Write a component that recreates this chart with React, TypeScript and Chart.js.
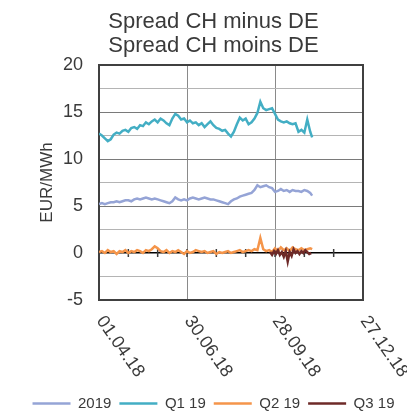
import React, { useEffect, useRef } from "react";
import { Chart, registerables } from "chart.js";

Chart.register(...registerables);

const TITLE_LINES = ["Spread CH minus DE", "Spread CH moins DE"];
const Y_TITLE = "EUR/MWh";
const X_TICK_DAYS = [0, 90, 180, 270];
const X_TICK_LABELS = ["01.04.18", "30.06.18", "28.09.18", "27.12.18"];
const ZERO_TICK_DAYS = [0, 30, 60, 90, 120, 150, 180, 210, 240, 270];

const SERIES_NAMES = ["2019", "Q1 19", "Q2 19", "Q3 19"];
const SERIES_COLORS = ["#95a4d6", "#43aec4", "#f5954a", "#6e2a28"];

// days since 01.04.18
const days = [
  0, 3, 6, 9, 12, 15, 18, 21, 24, 27, 30, 33, 36, 39, 42, 45, 48, 51, 54, 57,
  60, 63, 66, 69, 72, 75, 78, 81, 84, 87, 90, 93, 96, 99, 102, 105, 108, 111, 114, 117,
  120, 123, 126, 129, 132, 135, 138, 141, 144, 147, 150, 153, 156, 159, 162, 165, 168, 171, 174, 177,
  180, 183, 186, 189, 192, 195, 198, 201, 204, 207, 210, 213, 216, 218,
];

const y2019 = [
  5.2, 5.3, 5.2, 5.3, 5.4, 5.4, 5.5, 5.4, 5.5, 5.6,
  5.6, 5.5, 5.7, 5.8, 5.7, 5.8, 5.9, 5.8, 5.7, 5.8,
  5.7, 5.6, 5.5, 5.4, 5.3, 5.5, 5.9, 5.7, 5.6, 5.7,
  5.6, 5.8, 5.9, 5.8, 5.7, 5.8, 5.9, 5.8, 5.7, 5.7,
  5.6, 5.5, 5.4, 5.3, 5.2, 5.5, 5.7, 5.8, 6.0, 6.1,
  6.2, 6.3, 6.4, 6.7, 7.2, 7.0, 7.1, 7.2, 7.0, 6.9,
  6.5, 6.6, 6.8, 6.6, 6.7, 6.5, 6.7, 6.6, 6.6, 6.5,
  6.7, 6.6, 6.4, 6.1,
];

const yQ1 = [
  12.7, 12.5, 12.2, 11.9, 12.1, 12.6, 12.8, 12.7, 13.0, 13.1,
  12.9, 13.3, 13.4, 13.2, 13.6, 13.5, 13.9, 13.7, 14.0, 14.2,
  13.9, 14.3, 14.1, 13.8, 13.6, 14.3, 14.8, 14.6, 14.2, 14.3,
  13.9, 14.1, 13.8, 13.9, 13.6, 13.8, 13.4, 13.7, 14.0, 13.6,
  13.3, 13.2, 13.0, 13.1, 12.7, 12.4, 12.9, 13.7, 14.4, 14.1,
  14.3, 13.7, 13.9, 14.3, 14.9, 16.1, 15.4, 15.2, 15.3, 15.4,
  14.8, 14.2, 14.0, 13.9, 14.0, 13.8, 13.7, 13.8, 12.9, 13.1,
  12.8, 14.2, 12.9, 12.3,
];

const yQ2 = [
  0.1, 0.2, 0.0, 0.3, 0.1, 0.2, -0.1, 0.2, 0.1, 0.3,
  0.0, 0.2, 0.1, 0.3, 0.2, 0.0, 0.3, 0.2, 0.4, 0.7,
  0.5, 0.2, 0.1, 0.3, 0.0, 0.2, 0.1, 0.3, 0.1, -0.1,
  0.2, 0.0, 0.1, 0.3, 0.2, 0.1, 0.2, 0.0, 0.1, 0.2,
  -0.1, 0.1, 0.0, 0.1, 0.2, 0.0, 0.1, 0.2, 0.3, 0.1,
  0.2, 0.3, 0.2, 0.4, 0.3, 1.6, 0.4, 0.2, 0.3, 0.1,
  0.5, 0.2, 0.6, 0.3, 0.5, 0.2, 0.6, 0.4, 0.3, 0.5,
  0.3, 0.4, 0.5, 0.4,
];

const q3Days = [175, 177, 179, 181, 183, 185, 187, 189, 191, 193, 195, 197, 199, 201, 203, 205, 207, 209, 211, 213, 215, 217];
const yQ3 = [0.1, -0.2, 0.2, -0.1, 0.3, -0.2, 0.1, -0.4, 0.2, -0.9, 0.1, -0.3, 0.4, 0.0, 0.2, -0.1, 0.2, 0.0, 0.3, 0.1, -0.1, 0.0];

const toPoints = (xs: number[], ys: number[]) => xs.map((x, i) => ({ x, y: ys[i] }));

const FONT = "'Liberation Sans', Arial, sans-serif";
const TEXT_COLOR = "#3a3a3a";

const framePlugin = {
  id: "frameAndZero",
  beforeDatasetsDraw(chart: any) {
    const { ctx, chartArea } = chart;
    const xs = chart.scales.x;
    const ys = chart.scales.y;
    const y0 = ys.getPixelForValue(0);
    ctx.save();
    ctx.strokeStyle = "#3c3c3c";
    ctx.lineWidth = 1.5;
    ZERO_TICK_DAYS.forEach((d) => {
      const px = xs.getPixelForValue(d);
      ctx.beginPath();
      ctx.moveTo(px, y0 - 4);
      ctx.lineTo(px, y0 + 4);
      ctx.stroke();
    });
    ctx.strokeStyle = "#404040";
    ctx.lineWidth = 2;
    ctx.strokeRect(chartArea.left, chartArea.top, chartArea.right - chartArea.left, chartArea.bottom - chartArea.top);
    ctx.restore();
  },
  afterDraw(chart: any) {
    const { ctx, chartArea } = chart;
    const xs = chart.scales.x;
    ctx.save();
    ctx.fillStyle = TEXT_COLOR;
    ctx.font = `18px ${FONT}`;
    ctx.textAlign = "left";
    ctx.textBaseline = "middle";
    X_TICK_DAYS.forEach((d, i) => {
      const px = xs.getPixelForValue(d);
      ctx.save();
      ctx.translate(px + 1, chartArea.bottom + 18);
      ctx.rotate((55 * Math.PI) / 180);
      ctx.fillText(X_TICK_LABELS[i], 0, 0);
      ctx.restore();
    });
    ctx.restore();
  },
};

export default function App() {
  const ref = useRef<HTMLCanvasElement | null>(null);

  useEffect(() => {
    if (!ref.current) return;
    const chart = new Chart(ref.current, {
      type: "line",
      data: {
        datasets: [
          { label: SERIES_NAMES[0], data: toPoints(days, y2019), borderColor: SERIES_COLORS[0], backgroundColor: SERIES_COLORS[0], borderWidth: 2.5, order: 3 },
          { label: SERIES_NAMES[1], data: toPoints(days, yQ1), borderColor: SERIES_COLORS[1], backgroundColor: SERIES_COLORS[1], borderWidth: 2.5, order: 2 },
          { label: SERIES_NAMES[2], data: toPoints(days, yQ2), borderColor: SERIES_COLORS[2], backgroundColor: SERIES_COLORS[2], borderWidth: 2.5, order: 1 },
          { label: SERIES_NAMES[3], data: toPoints(q3Days, yQ3), borderColor: SERIES_COLORS[3], backgroundColor: SERIES_COLORS[3], borderWidth: 2.5, order: 0 },
        ],
      },
      options: {
        animation: false,
        responsive: false,
        devicePixelRatio: 1,
        layout: { padding: { left: 20, right: 0, top: 0, bottom: 0 } },
        elements: { point: { radius: 0 }, line: { tension: 0 } },
        plugins: {
          tooltip: { enabled: false },
          title: {
            display: true,
            text: TITLE_LINES,
            color: TEXT_COLOR,
            font: { family: FONT, size: 22, weight: "normal", lineHeight: "24px" },
            padding: { top: 10, bottom: 7 },
          },
          legend: {
            position: "bottom",
            labels: {
              usePointStyle: true,
              pointStyle: "line",
              pointStyleWidth: 38,
              padding: 8,
              color: TEXT_COLOR,
              font: { family: FONT, size: 15 },
              sort: (a: any, b: any) => a.datasetIndex - b.datasetIndex,
            },
          },
        },
        scales: {
          x: {
            type: "linear",
            min: 0,
            max: 270,
            position: "bottom",
            ticks: { display: false, stepSize: 90, autoSkip: false },
            grid: { color: "#8a8a8a", lineWidth: 1, drawTicks: false },
            border: { display: false },
            afterFit: (s: any) => { s.height = 88; },
          },
          y: {
            type: "linear",
            min: -5,
            max: 20,
            position: "left",
            ticks: {
              stepSize: 2.5,
              autoSkip: false,
              padding: 16,
              color: TEXT_COLOR,
              font: { family: FONT, size: 18 },
              callback: (v: any) => (Number(v) % 5 === 0 ? String(v) : ""),
            },
            grid: {
              drawTicks: false,
              color: (c: any) => (c.tick && c.tick.value === 0 ? "#000000" : c.tick && c.tick.value % 5 === 0 ? "#7a7a7a" : "#b4b4b4"),
              lineWidth: (c: any) => (c.tick && c.tick.value === 0 ? 1.5 : 1),
            },
            border: { display: false },
            title: {
              display: true,
              text: Y_TITLE,
              color: TEXT_COLOR,
              font: { family: FONT, size: 17 },
              padding: { top: 17, bottom: 0 },
            },
            afterFit: (s: any) => { s.width = 79; },
          },
          yR: {
            type: "linear",
            position: "right",
            display: true,
            ticks: { display: false },
            grid: { display: false },
            border: { display: false },
            afterFit: (s: any) => { s.width = 44; },
          },
        },
      },
      plugins: [framePlugin],
    } as any);
    return () => chart.destroy();
  }, []);

  return (
    <div style={{ position: "absolute", left: 0, top: 0, width: 407, height: 413, overflow: "hidden", background: "#fff" }}>
      <canvas ref={ref} width={407} height={421} />
    </div>
  );
}
